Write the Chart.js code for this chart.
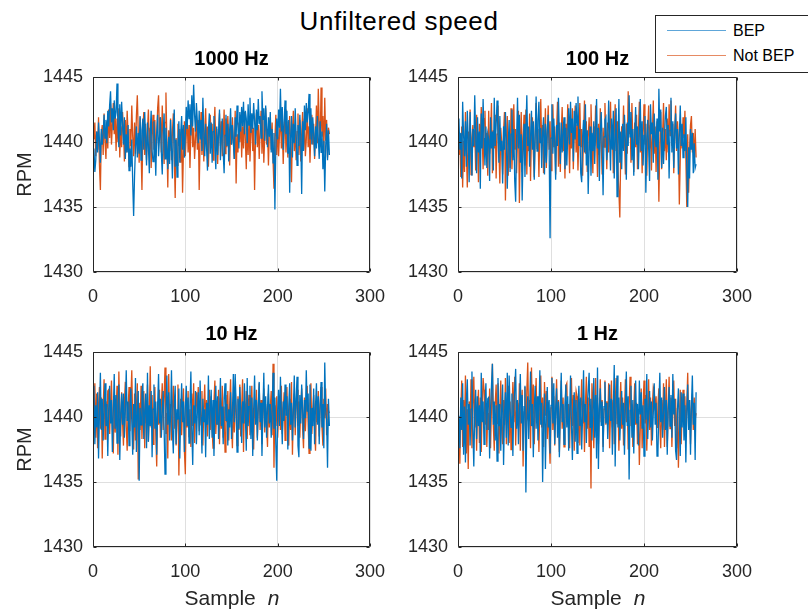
<!DOCTYPE html>
<html>
<head>
<meta charset="utf-8">
<title>Unfiltered speed</title>
<script src="https://cdn.jsdelivr.net/npm/chart.js@4/dist/chart.umd.min.js"></script>
<style>
  html, body { margin: 0; padding: 0; background: #ffffff; }
  body { width: 808px; height: 610px; overflow: hidden; position: relative;
         font-family: "Liberation Sans", Arial, Helvetica, sans-serif; color: #262626; }
  canvas { position: absolute; }
  .suptitle { position: absolute; left: 0; width: 798px; top: 8px; text-align: center;
              font-size: 26px; line-height: 26px; letter-spacing: 0.6px; color: #000; }
  .xlabel { position: absolute; width: 300px; text-align: center; font-size: 21px; line-height: 21px; top: 587px; }
  .xlabel i { margin-left: 12px; }
  .legend { position: absolute; left: 655px; top: 15px; width: 170px; height: 56px;
            border: 1px solid #262626; background: #fff; }
  .legend .sw { position: absolute; left: 11px; width: 59px; height: 1px; }
  .legend .tx { position: absolute; left: 77px; font-size: 16px; line-height: 16px; color: #000; }
</style>
</head>
<body>
<div class="suptitle">Unfiltered speed</div>

<canvas id="c1000" width="390" height="265" style="left:0px;top:47px"></canvas>
<canvas id="c100" width="392" height="265" style="left:365px;top:47px"></canvas>
<canvas id="c10" width="390" height="265" style="left:0px;top:322px"></canvas>
<canvas id="c1" width="392" height="265" style="left:365px;top:322px"></canvas>

<div class="xlabel" style="left:82px">Sample<i>n</i></div>
<div class="xlabel" style="left:448px">Sample<i>n</i></div>

<div class="legend">
  <div class="sw" style="top:14px;background:#5ea6d9"></div>
  <div class="tx" style="top:7px">BEP</div>
  <div class="sw" style="top:39px;background:#e68a63"></div>
  <div class="tx" style="top:32px">Not BEP</div>
</div>

<script>
// Speed samples (RPM) per sampling rate, 256 samples each
const bep1000 = [
1439.5,1437.7,1438.6,1440.8,1439.2,1441.5,1440.1,1438.4,1441.0,1439.8,1440.6,1442.1,1440.3,1441.7,1439.9,1442.4,
1441.2,1442.8,1443.9,1441.5,1442.6,1440.9,1443.2,1441.8,1442.3,1444.5,1441.1,1439.6,1442.9,1440.5,1443.1,1441.4,
1439.8,1441.9,1438.7,1440.6,1439.2,1441.3,1437.8,1439.5,1438.1,1440.2,1436.9,1434.3,1437.4,1439.6,1441.2,1438.8,
1440.7,1439.1,1442.0,1438.6,1440.9,1441.8,1439.4,1442.3,1440.1,1438.2,1441.5,1439.7,1437.6,1440.8,1442.4,1439.3,
1438.5,1441.6,1439.9,1437.4,1440.7,1442.1,1438.9,1440.3,1441.9,1439.2,1437.5,1440.6,1442.2,1438.7,1441.1,1439.5,
1437.9,1440.4,1438.3,1441.7,1439.6,1437.2,1440.9,1442.5,1438.1,1440.2,1437.3,1439.8,1441.6,1438.4,1440.7,1442.0,
1439.4,1441.3,1438.8,1440.6,1442.7,1441.0,1443.2,1441.8,1442.9,1440.5,1443.6,1441.2,1444.4,1442.1,1440.8,1443.0,
1441.6,1439.9,1442.4,1440.2,1441.7,1439.3,1443.4,1440.6,1438.9,1441.4,1439.5,1437.8,1440.9,1442.2,1439.1,1441.5,
1438.4,1440.8,1442.0,1439.6,1437.9,1441.2,1439.0,1440.7,1442.5,1438.6,1440.3,1441.8,1439.2,1437.6,1440.5,1442.1,
1439.7,1441.4,1438.5,1440.9,1442.6,1439.8,1441.3,1440.0,1438.7,1441.9,1440.4,1442.8,1441.1,1439.5,1442.3,1440.8,
1442.7,1441.2,1443.1,1440.6,1442.4,1441.8,1439.9,1442.9,1441.3,1443.4,1440.7,1442.2,1441.0,1443.0,1441.6,1439.8,
1442.5,1440.9,1443.3,1441.4,1442.0,1440.3,1443.9,1441.7,1442.6,1440.1,1442.8,1441.2,1439.6,1441.9,1440.4,1442.3,
1439.2,1441.0,1438.4,1440.7,1434.8,1439.6,1441.8,1440.2,1442.5,1441.1,1444.1,1440.8,1442.7,1439.4,1441.5,1443.2,
1440.6,1442.4,1439.1,1441.7,1436.1,1440.3,1442.0,1438.8,1441.4,1439.9,1442.6,1440.5,1438.2,1441.3,1439.7,1442.1,
1440.4,1436.0,1441.6,1439.3,1442.8,1440.9,1443.0,1441.5,1442.3,1443.7,1440.2,1442.6,1439.8,1441.9,1440.6,1438.9,
1441.2,1439.5,1442.0,1440.3,1438.7,1441.6,1439.2,1440.8,1437.9,1440.1,1436.2,1439.7,1441.4,1438.6,1440.9,1439.0
];
const notBep1000 = [
1440.2,1441.5,1438.9,1440.8,1439.4,1441.9,1438.2,1436.3,1440.6,1441.3,1439.0,1442.2,1440.1,1438.7,1441.6,1439.5,
1442.5,1440.3,1442.9,1439.8,1441.4,1443.0,1440.6,1442.1,1439.3,1441.8,1440.0,1442.6,1438.8,1441.2,1439.6,1442.3,
1440.9,1438.5,1441.7,1439.2,1442.4,1440.5,1438.1,1441.0,1439.7,1442.8,1440.4,1438.9,1441.5,1439.1,1442.0,1443.6,
1440.7,1438.4,1441.9,1439.6,1436.3,1440.8,1442.3,1439.0,1441.4,1438.6,1440.9,1442.5,1439.3,1441.1,1438.0,1440.5,
1442.1,1439.4,1441.7,1438.8,1440.2,1442.6,1443.6,1440.4,1441.9,1439.2,1442.8,1440.6,1438.3,1441.5,1443.8,1440.1,
1436.5,1440.9,1439.3,1441.8,1438.6,1440.7,1442.2,1439.1,1435.7,1440.3,1438.2,1441.4,1439.7,1441.0,1438.4,1440.8,
1436.1,1439.5,1441.6,1438.9,1440.5,1442.0,1439.2,1441.3,1438.0,1440.7,1442.4,1439.6,1441.1,1438.7,1440.2,1441.9,
1439.4,1441.7,1436.3,1440.1,1442.3,1439.0,1441.5,1438.5,1440.8,1442.6,1439.3,1441.2,1438.1,1440.6,1442.1,1439.8,
1441.4,1438.6,1440.9,1442.7,1439.5,1441.0,1438.3,1440.5,1442.2,1439.7,1441.6,1438.9,1440.3,1442.5,1439.1,1441.8,
1439.6,1442.0,1440.4,1438.2,1441.3,1439.8,1441.9,1440.1,1438.7,1442.4,1436.8,1440.6,1439.2,1441.5,1440.0,1442.1,
1438.8,1441.2,1439.5,1442.3,1440.2,1437.9,1441.6,1439.0,1441.8,1438.5,1440.7,1442.0,1439.3,1441.1,1436.3,1440.4,
1442.2,1439.6,1441.3,1438.7,1440.9,1442.4,1439.1,1441.7,1438.4,1440.5,1442.6,1439.8,1441.0,1438.2,1440.8,1441.9,
1439.4,1441.5,1438.6,1436.4,1440.3,1442.1,1439.0,1441.4,1438.9,1440.6,1442.3,1439.5,1441.2,1438.3,1440.7,1442.5,
1439.2,1441.6,1438.8,1440.4,1442.0,1439.7,1436.9,1440.9,1442.4,1439.3,1441.1,1438.6,1440.8,1442.2,1439.0,1441.7,
1438.5,1440.6,1442.3,1439.4,1441.8,1438.9,1440.2,1442.6,1439.6,1441.2,1438.4,1440.9,1442.1,1439.8,1441.4,1438.7,
1440.5,1442.8,1439.9,1444.1,1441.3,1439.6,1444.2,1440.4,1442.0,1439.2,1443.4,1440.1,1441.7,1438.8,1441.1,1440.6
];
const bep100 = [
1441.8,1439.4,1440.7,1437.2,1443.1,1440.5,1438.9,1441.6,1438.1,1442.4,1440.2,1436.9,1442.3,1439.6,1437.4,1441.0,
1439.7,1443.6,1440.4,1437.6,1441.9,1439.2,1440.8,1436.4,1442.2,1439.5,1443.3,1440.3,1438.2,1441.2,1438.0,1440.6,
1440.2,1437.0,1441.9,1439.5,1440.8,1437.8,1443.4,1439.7,1441.3,1443.2,1440.5,1438.4,1442.0,1439.3,1440.1,1436.8,
1441.2,1439.4,1442.3,1440.0,1436.4,1439.8,1441.7,1437.7,1440.6,1442.5,1438.6,1441.0,1437.0,1435.4,1440.2,1443.4,
1439.5,1442.1,1438.4,1440.6,1435.5,1439.2,1441.4,1437.3,1440.8,1443.6,1439.7,1441.2,1438.1,1440.3,1442.4,1439.4,
1441.6,1437.1,1440.5,1443.5,1439.3,1441.7,1443.1,1439.9,1441.1,1438.0,1440.7,1441.9,1437.5,1441.4,1438.4,1440.9,
1442.1,1439.6,1432.6,1440.3,1442.9,1439.1,1441.8,1440.0,1437.1,1441.3,1439.7,1443.4,1440.6,1438.3,1441.5,1439.2,
1440.8,1441.9,1437.9,1441.1,1438.2,1440.5,1442.6,1439.8,1443.1,1440.7,1441.8,1438.5,1442.4,1440.2,1443.0,1441.3,
1443.5,1439.7,1441.0,1437.6,1436.9,1440.4,1441.7,1439.2,1442.9,1438.2,1440.9,1436.0,1439.5,1441.2,1437.4,1440.7,
1439.3,1441.6,1438.3,1440.9,1443.3,1439.5,1441.1,1437.0,1440.6,1442.3,1439.8,1435.9,1440.4,1441.7,1441.9,1438.6,
1439.9,1443.2,1440.5,1437.8,1441.8,1439.4,1442.4,1437.2,1440.3,1442.6,1435.8,1439.6,1443.3,1438.4,1440.8,1437.9,
1441.4,1439.3,1442.1,1440.1,1437.1,1441.5,1439.7,1443.6,1440.4,1442.3,1438.6,1441.0,1437.4,1440.6,1442.7,1439.8,
1441.2,1437.9,1440.7,1443.3,1439.3,1441.6,1438.2,1440.5,1442.0,1436.1,1440.2,1441.7,1439.5,1437.0,1442.9,1440.6,
1441.5,1438.4,1442.2,1440.3,1439.6,1441.8,1437.1,1444.1,1440.8,1442.5,1438.0,1441.1,1438.3,1440.4,1442.0,1442.7,
1439.8,1441.3,1437.2,1440.9,1443.4,1439.2,1441.6,1438.0,1440.7,1442.2,1439.5,1441.0,1437.5,1440.5,1442.8,1439.7,
1441.4,1438.8,1440.6,1439.3,1441.9,1438.1,1435.0,1439.6,1437.2,1441.0,1439.4,1440.7,1437.6,1439.9,1438.0,1438.3
];
const notBep100 = [
1439.0,1440.6,1437.3,1441.2,1436.5,1440.1,1437.7,1442.3,1439.4,1436.5,1440.8,1439.2,1442.5,1437.5,1440.3,1441.3,
1439.6,1440.9,1437.8,1442.1,1440.2,1436.9,1441.4,1439.7,1442.7,1440.5,1437.9,1441.8,1442.4,1439.3,1440.7,1437.4,
1442.4,1439.1,1440.4,1443.0,1437.6,1440.9,1439.5,1442.1,1437.2,1440.6,1442.8,1439.4,1436.8,1441.1,1439.9,1437.5,
1440.8,1442.3,1435.5,1439.7,1442.0,1437.4,1440.6,1438.0,1442.6,1437.9,1440.3,1442.9,1439.4,1441.0,1437.6,1440.2,
1442.4,1435.3,1439.8,1442.3,1437.7,1440.4,1442.1,1438.2,1442.5,1437.5,1440.9,1439.3,1442.2,1437.0,1440.6,1441.9,
1439.1,1437.3,1440.7,1443.0,1439.5,1441.0,1437.3,1440.8,1443.3,1439.7,1441.3,1437.6,1440.2,1442.6,1438.0,1440.5,
1442.8,1439.4,1441.6,1437.8,1440.3,1442.9,1439.6,1441.2,1437.5,1440.9,1443.1,1438.1,1441.5,1437.7,1440.6,1442.7,
1439.3,1440.8,1437.2,1441.4,1439.9,1442.9,1440.4,1437.6,1441.1,1439.5,1442.6,1437.9,1440.6,1442.8,1439.2,1441.3,
1437.8,1440.5,1443.0,1439.6,1441.0,1437.4,1440.7,1443.2,1439.1,1441.6,1437.7,1440.3,1441.9,1439.4,1442.9,1440.2,
1437.6,1441.2,1439.7,1442.8,1440.5,1437.3,1441.4,1439.0,1442.6,1440.1,1437.5,1441.1,1439.6,1443.0,1440.4,1437.9,
1441.5,1439.2,1440.8,1443.1,1439.5,1441.0,1437.6,1440.7,1442.9,1439.3,1441.6,1437.8,1436.2,1434.2,1439.4,1441.2,
1439.7,1442.8,1440.3,1437.5,1441.4,1439.1,1443.9,1440.6,1441.8,1438.4,1443.0,1440.0,1437.7,1441.5,1439.6,1442.1,
1437.9,1440.7,1443.1,1439.2,1441.0,1437.6,1440.5,1442.9,1439.8,1441.4,1437.4,1440.9,1442.8,1439.5,1441.3,1437.8,
1440.6,1443.2,1439.1,1441.2,1437.7,1441.6,1440.2,1435.4,1439.8,1442.3,1437.9,1440.6,1443.0,1439.3,1441.0,1438.6,
1441.8,1439.2,1442.9,1440.5,1443.2,1439.7,1441.4,1437.6,1440.8,1442.8,1439.3,1441.6,1440.1,1435.2,1438.7,1441.2,
1439.5,1441.9,1440.3,1442.4,1438.8,1435.0,1440.6,1436.1,1439.4,1441.3,1442.0,1439.2,1440.7,1438.4,1441.0,1438.8
];
const bep10 = [
1442.4,1437.9,1440.9,1439.2,1441.9,1436.8,1440.3,1443.4,1439.0,1441.4,1438.2,1440.7,1442.6,1439.3,1441.0,1437.0,
1440.6,1442.4,1439.5,1441.3,1437.3,1440.4,1443.3,1439.1,1441.7,1438.0,1440.9,1442.5,1436.7,1440.2,1441.8,1439.4,
1441.8,1438.4,1440.5,1443.6,1439.7,1441.2,1437.8,1440.8,1442.2,1439.6,1437.1,1441.0,1439.2,1443.0,1437.3,1440.3,
1442.0,1435.1,1440.7,1439.4,1441.9,1442.6,1438.3,1440.4,1441.8,1437.6,1443.4,1438.1,1440.9,1439.3,1442.0,1436.9,
1440.6,1442.5,1439.1,1441.2,1437.1,1440.8,1443.3,1439.5,1441.4,1438.4,1440.3,1442.0,1439.2,1435.6,1440.5,1443.2,
1439.4,1441.9,1438.2,1440.2,1443.6,1439.0,1437.2,1440.9,1442.4,1437.9,1440.6,1439.8,1442.2,1436.8,1440.4,1442.6,
1439.6,1441.2,1437.3,1440.7,1442.4,1439.3,1441.5,1438.0,1440.8,1443.5,1439.1,1436.3,1440.9,1439.5,1442.0,1437.9,
1440.3,1441.9,1438.6,1442.8,1440.0,1437.2,1441.4,1439.6,1440.6,1436.9,1441.1,1439.4,1443.2,1438.3,1440.5,1442.1,
1438.4,1441.3,1437.0,1440.7,1442.4,1439.4,1441.6,1438.3,1440.2,1443.0,1439.3,1440.8,1437.9,1441.5,1442.6,1439.7,
1441.0,1437.8,1440.6,1439.2,1441.9,1438.3,1440.3,1443.3,1439.6,1443.3,1440.9,1437.3,1441.4,1439.1,1442.3,1440.5,
1438.0,1441.2,1439.5,1442.6,1440.1,1437.4,1443.0,1439.3,1440.8,1442.4,1438.3,1441.5,1437.0,1440.6,1443.2,1439.4,
1441.3,1438.2,1440.9,1442.7,1439.6,1441.1,1437.0,1440.3,1443.4,1439.2,1441.6,1438.4,1440.7,1442.5,1439.5,1441.0,
1438.4,1440.4,1443.4,1439.1,1441.5,1437.9,1435.1,1440.5,1442.1,1439.3,1443.1,1440.2,1437.9,1441.2,1439.7,1442.5,
1440.1,1441.6,1437.5,1440.8,1442.6,1439.4,1441.1,1438.2,1440.5,1443.2,1439.2,1441.4,1443.1,1437.8,1436.9,1441.7,
1439.5,1442.5,1440.6,1438.3,1441.3,1439.9,1443.6,1440.4,1441.8,1437.6,1442.5,1437.4,1440.7,1439.3,1442.2,1437.9,
1440.9,1442.6,1439.4,1441.6,1437.9,1440.8,1442.7,1439.2,1441.0,1437.6,1444.2,1440.5,1439.8,1436.1,1441.4,1439.3
];
const notBep10 = [
1440.0,1442.6,1438.4,1441.8,1437.6,1440.9,1442.3,1439.1,1441.5,1436.8,1440.7,1442.9,1438.3,1441.2,1439.5,1442.0,
1442.1,1438.7,1440.9,1442.8,1439.4,1437.2,1441.5,1438.8,1440.3,1442.4,1437.1,1443.5,1440.2,1438.5,1441.9,1439.6,
1437.8,1441.0,1442.7,1439.3,1437.4,1440.6,1442.3,1438.9,1441.4,1443.6,1439.7,1437.5,1441.8,1438.2,1440.8,1442.6,
1435.2,1441.1,1439.0,1442.4,1438.3,1440.7,1442.0,1437.6,1441.3,1439.5,1442.5,1438.1,1440.4,1443.9,1439.2,1441.7,
1437.9,1440.6,1442.3,1438.6,1436.2,1441.2,1439.4,1442.1,1438.4,1440.9,1442.6,1439.0,1441.5,1443.8,1438.7,1440.3,
1436.8,1443.3,1439.6,1441.0,1438.2,1440.7,1442.4,1439.1,1441.6,1437.8,1440.2,1442.5,1435.5,1439.8,1441.4,1438.6,
1440.9,1442.2,1437.4,1435.6,1441.3,1439.2,1442.0,1438.5,1440.6,1437.7,1441.8,1439.3,1442.6,1438.0,1440.4,1441.9,
1440.4,1442.3,1438.9,1441.1,1439.4,1442.0,1437.8,1440.6,1442.5,1439.2,1441.3,1438.5,1440.9,1442.1,1439.0,1441.6,
1439.0,1437.6,1441.2,1442.8,1438.7,1440.5,1439.4,1442.1,1437.9,1441.5,1439.1,1442.4,1438.4,1440.8,1437.3,1441.7,
1439.6,1442.0,1438.2,1440.9,1442.9,1439.4,1437.6,1441.1,1438.8,1442.3,1440.2,1437.8,1441.6,1439.0,1442.5,1438.5,
1440.7,1442.9,1437.3,1441.2,1439.5,1442.0,1438.3,1440.8,1441.7,1438.6,1440.3,1442.4,1439.1,1437.5,1441.4,1439.9,
1442.1,1438.4,1440.6,1442.6,1439.0,1441.3,1437.9,1440.5,1442.2,1438.8,1441.0,1439.4,1437.7,1441.8,1439.2,1440.7,
1442.0,1438.6,1444.1,1436.1,1440.9,1439.3,1441.6,1438.4,1440.2,1441.4,1439.0,1442.4,1438.7,1440.6,1441.9,1438.2,
1440.8,1442.3,1439.5,1437.8,1441.4,1439.0,1442.7,1437.1,1440.5,1441.8,1438.6,1440.9,1442.1,1439.3,1441.2,1438.4,
1440.7,1442.2,1439.1,1437.6,1441.5,1438.9,1440.6,1442.4,1439.4,1437.2,1441.0,1442.6,1438.7,1440.3,1441.7,1439.0,
1437.4,1441.2,1439.6,1442.0,1438.5,1440.8,1442.3,1439.2,1437.8,1441.4,1439.9,1442.2,1438.6,1441.0,1440.5,1440.3
];
const bep1 = [
1440.1,1437.6,1441.5,1439.0,1442.6,1437.1,1440.8,1436.5,1441.3,1442.9,1439.4,1441.0,1437.8,1440.6,1443.5,1439.1,
1436.2,1440.5,1442.1,1438.3,1441.6,1439.3,1440.9,1437.0,1443.4,1439.6,1441.2,1437.9,1440.7,1442.6,1439.0,1441.4,
1441.5,1436.8,1440.6,1442.4,1444.1,1439.4,1441.2,1438.2,1440.9,1436.6,1443.0,1439.3,1441.0,1437.4,1440.7,1442.5,
1436.3,1440.2,1441.9,1438.4,1443.4,1437.8,1443.2,1440.6,1439.2,1441.8,1437.0,1440.9,1442.1,1443.7,1439.1,1441.3,
1437.9,1440.4,1443.3,1439.5,1441.7,1437.4,1440.8,1442.4,1434.2,1439.6,1441.6,1438.3,1440.5,1443.5,1439.3,1441.0,
1436.9,1440.7,1442.4,1439.1,1441.6,1438.2,1440.3,1443.6,1439.4,1441.1,1435.0,1439.7,1441.8,1436.0,1440.2,1442.3,
1439.2,1441.3,1437.2,1440.9,1443.0,1439.5,1442.6,1437.9,1440.6,1442.2,1438.4,1441.2,1436.9,1440.4,1443.4,1439.6,
1441.0,1437.9,1440.8,1442.5,1439.2,1441.6,1437.4,1440.3,1443.2,1439.4,1436.7,1440.5,1441.9,1438.1,1441.3,1437.2,
1440.7,1442.4,1439.3,1441.5,1437.5,1440.2,1443.6,1439.6,1441.0,1438.0,1440.9,1442.1,1443.4,1439.2,1441.4,1438.2,
1440.5,1443.0,1438.4,1441.7,1436.8,1443.8,1436.0,1440.6,1442.2,1439.3,1441.2,1437.3,1440.8,1442.7,1439.5,1441.1,
1438.3,1440.4,1442.5,1439.7,1441.4,1437.1,1440.7,1444.0,1436.2,1440.9,1443.2,1439.2,1441.5,1438.2,1440.3,1442.0,
1439.4,1441.1,1437.1,1440.8,1443.5,1439.3,1441.6,1435.2,1440.5,1442.4,1438.4,1441.3,1437.2,1440.6,1442.8,1439.5,
1441.0,1437.8,1442.8,1440.2,1441.9,1439.1,1440.9,1437.0,1441.4,1439.8,1443.3,1438.3,1440.5,1442.0,1439.2,1441.2,
1438.2,1440.3,1442.6,1439.4,1441.1,1437.0,1437.3,1440.8,1443.4,1439.6,1441.5,1438.4,1440.4,1442.3,1439.0,1441.3,
1437.1,1440.5,1442.3,1439.3,1441.7,1438.4,1443.3,1440.2,1441.4,1437.4,1436.7,1440.6,1442.2,1439.5,1437.0,1441.9,
1439.2,1441.8,1438.2,1440.9,1436.5,1440.3,1442.5,1439.0,1441.3,1437.1,1440.8,1443.2,1439.4,1441.1,1436.7,1441.9
];
const notBep1 = [
1439.8,1436.4,1440.5,1442.8,1437.7,1441.3,1439.1,1443.2,1437.2,1440.6,1436.0,1441.2,1439.5,1442.9,1437.6,1440.9,
1443.1,1439.2,1441.6,1437.4,1440.7,1442.1,1438.0,1441.5,1437.3,1440.8,1443.0,1442.1,1439.4,1441.0,1437.7,1440.3,
1439.0,1442.2,1437.6,1440.8,1444.1,1439.3,1437.4,1441.0,1442.5,1439.5,1442.6,1437.2,1440.6,1442.8,1439.1,1437.9,
1441.3,1439.4,1443.0,1437.9,1440.7,1442.4,1438.0,1441.2,1437.5,1440.3,1442.7,1439.6,1443.1,1437.8,1440.5,1441.1,
1439.2,1442.6,1437.4,1440.9,1442.1,1436.2,1440.4,1442.3,1438.1,1442.0,1444.2,1439.7,1441.3,1437.6,1443.8,1440.2,
1442.5,1437.9,1440.6,1443.0,1439.6,1441.1,1437.3,1440.8,1443.2,1439.2,1441.5,1437.7,1442.7,1440.1,1442.0,1438.3,
1441.2,1438.5,1436.4,1440.7,1443.1,1439.0,1441.6,1437.8,1440.4,1442.9,1439.4,1441.3,1437.3,1440.6,1442.8,1439.1,
1441.5,1437.7,1440.2,1442.4,1442.6,1439.5,1441.0,1437.6,1440.9,1443.0,1439.3,1441.7,1437.4,1440.5,1442.0,1441.6,
1438.0,1441.4,1437.8,1440.6,1442.9,1439.5,1441.2,1437.3,1440.9,1443.1,1439.1,1441.5,1437.7,1440.4,1434.5,1442.6,
1441.0,1437.6,1440.8,1443.0,1439.3,1441.5,1437.9,1440.4,1442.9,1439.6,1441.3,1437.7,1440.6,1442.8,1439.4,1441.2,
1439.4,1442.6,1437.6,1440.3,1442.8,1439.2,1441.3,1437.9,1440.7,1443.0,1439.5,1441.0,1437.4,1440.6,1442.7,1439.1,
1441.5,1437.8,1440.4,1442.9,1439.6,1441.2,1437.5,1440.9,1443.1,1439.3,1441.0,1437.7,1440.5,1442.6,1439.4,1441.1,
1437.9,1440.6,1436.3,1439.1,1442.2,1437.6,1440.8,1442.8,1439.5,1441.7,1437.4,1440.3,1442.9,1439.0,1441.5,1437.8,
1440.9,1442.3,1442.0,1440.5,1441.6,1439.2,1441.0,1442.2,1439.4,1437.6,1441.3,1439.0,1442.6,1437.7,1440.4,1442.9,
1437.7,1440.6,1443.1,1439.1,1441.5,1437.7,1440.8,1442.8,1439.3,1441.4,1437.6,1440.7,1436.1,1439.5,1442.1,1437.9,
1440.5,1442.1,1439.4,1441.6,1438.8,1440.9,1443.4,1439.2,1441.3,1437.9,1440.6,1441.8,1439.0,1441.5,1439.8,1440.3
];

const panelTitles = ['1000 Hz', '100 Hz', '10 Hz', '1 Hz'];
const seriesNames = ['BEP', 'Not BEP'];
const xTicks = [0, 100, 200, 300];
const yTicks = [1430, 1435, 1440, 1445];

const BLUE = '#0072BD';
const ORANGE = '#D95319';
const AXIS = '#262626';
const GRID = '#dfdfdf';
const FONT = '"Liberation Sans", Arial, Helvetica, sans-serif';

// Closed axes box with short inward tick marks on all four sides
const boxTicks = {
  id: 'boxTicks',
  afterDraw(chart) {
    const { ctx, chartArea: a, scales: { x, y } } = chart;
    const L = Math.round(a.left) + 0.5, R = Math.round(a.right) - 0.5;
    const T = Math.round(a.top) + 0.5, B = Math.round(a.bottom) - 0.5;
    ctx.save();
    ctx.strokeStyle = AXIS;
    ctx.lineWidth = 1;
    ctx.beginPath();
    x.ticks.forEach(t => {
      const px = Math.round(x.getPixelForValue(t.value)) + 0.5;
      ctx.moveTo(px, B); ctx.lineTo(px, B - 3);
      ctx.moveTo(px, T); ctx.lineTo(px, T + 3);
    });
    y.ticks.forEach(t => {
      const py = Math.round(y.getPixelForValue(t.value)) + 0.5;
      ctx.moveTo(L, py); ctx.lineTo(L + 3, py);
      ctx.moveTo(R, py); ctx.lineTo(R - 3, py);
    });
    ctx.moveTo(L, T); ctx.lineTo(R, T); ctx.lineTo(R, B); ctx.lineTo(L, B); ctx.closePath();
    ctx.stroke();
    ctx.restore();
  }
};

function toPoints(values) {
  return values.map((v, i) => ({ x: i + 1, y: v }));
}

function makePanel(canvasId, title, bep, notBep, showYTitle) {
  new Chart(document.getElementById(canvasId), {
    type: 'line',
    data: {
      datasets: [
        { label: seriesNames[0], data: toPoints(bep), borderColor: BLUE, borderWidth: 1.3,
          pointRadius: 0, tension: 0, fill: false },
        { label: seriesNames[1], data: toPoints(notBep), borderColor: ORANGE, borderWidth: 1.3,
          pointRadius: 0, tension: 0, fill: false }
      ]
    },
    options: {
      responsive: false,
      animation: false,
      devicePixelRatio: 1,
      events: [],
      layout: { padding: { left: 0, top: 0, right: 20, bottom: 0 } },
      plugins: {
        legend: { display: false },
        tooltip: { enabled: false },
        title: {
          display: true, text: title, color: '#000', fullSize: false,
          font: { family: FONT, size: 20, weight: 'bold', lineHeight: '20px' },
          padding: { top: 2, bottom: 8 }
        }
      },
      scales: {
        x: {
          type: 'linear', min: 0, max: 300,
          afterBuildTicks: s => { s.ticks = xTicks.map(v => ({ value: v })); },
          afterFit: s => { s.height = 40; s.paddingLeft = 0; s.paddingRight = 0; },
          grid: { color: GRID, lineWidth: 1, drawTicks: false },
          border: { display: false },
          ticks: { color: AXIS, font: { family: FONT, size: 18 }, padding: 14, maxRotation: 0,
                   callback: v => String(v) }
        },
        y: {
          type: 'linear', min: 1430, max: 1445,
          afterBuildTicks: s => { s.ticks = yTicks.map(v => ({ value: v })); },
          afterFit: s => { s.width = 93; s.paddingTop = 0; s.paddingBottom = 0; },
          grid: { color: GRID, lineWidth: 1, drawTicks: false },
          border: { display: false },
          ticks: { color: AXIS, font: { family: FONT, size: 18 }, padding: 10,
                   callback: v => String(v) },
          title: {
            display: showYTitle, text: 'RPM', color: AXIS,
            font: { family: FONT, size: 20 }, padding: { top: 13, bottom: 0 }
          }
        }
      }
    },
    plugins: [boxTicks]
  });
}

makePanel('c1000', panelTitles[0], bep1000, notBep1000, true);
makePanel('c100', panelTitles[1], bep100, notBep100, false);
makePanel('c10', panelTitles[2], bep10, notBep10, true);
makePanel('c1', panelTitles[3], bep1, notBep1, false);
</script>
</body>
</html>
